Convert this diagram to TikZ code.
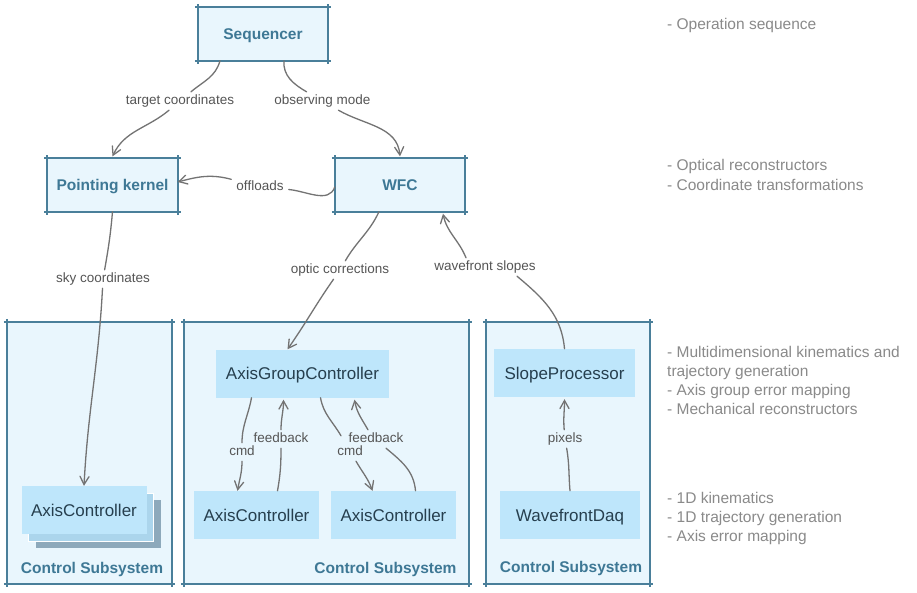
\documentclass[tikz,border=0pt]{standalone}
\usepackage{fontspec}
\setmainfont{Liberation Sans}
\usetikzlibrary{arrows.meta}

\definecolor{framecol}{HTML}{4A7F9A}
\definecolor{headfill}{HTML}{E9F6FD}
\definecolor{headtext}{HTML}{3E7895}
\definecolor{boxfill}{HTML}{BEE6FB}
\definecolor{boxtext}{HTML}{263F4E}
\definecolor{layermid}{HTML}{ABD5EC}
\definecolor{layerdark}{HTML}{8DA9BB}
\definecolor{wirecol}{HTML}{737373}
\definecolor{lbltext}{HTML}{555555}
\definecolor{notetext}{HTML}{8A8A8A}

\tikzset{
  headbox/.style={fill=headfill, text=headtext, font=\fontsize{15.5}{18}\selectfont\bfseries,
    minimum width=130pt, minimum height=53pt, inner sep=0pt, text height=11pt, text depth=0pt},
  subsys/.style={fill=headfill, minimum height=262pt, inner sep=0pt},
  subtitle/.style={text=headtext, font=\fontsize{15.5}{18}\selectfont\bfseries},
  unitbox/.style={fill=boxfill, text=boxtext, font=\fontsize{17}{20}\selectfont,
    minimum height=48pt, inner sep=0pt, text height=12pt, text depth=0pt},
  lbl/.style={text=lbltext, font=\fontsize{13.5}{16}\selectfont, text height=9.5pt,
    text depth=2.5pt, inner xsep=5pt, inner ysep=3pt},
  note/.style={text=notetext, font=\fontsize{15.5}{18}\selectfont, anchor=base west, inner sep=0pt},
  conn/.style={draw=wirecol, line width=1.3pt, line cap=round,
    -{Straight Barb[length=8pt,width=9pt,line cap=round]}},
  frame/.style={draw=framecol, line width=1.8pt},
}

\begin{document}
\begin{tikzpicture}[x=1pt,y=1pt]
  \fill[white] (0,0) rectangle (917,-592);   % page

  % subsystems
  \node[subsys, minimum width=165pt] (ctlA) at (89.5,-453) {};
  \node[subsys, minimum width=285pt] (ctlB) at (326.5,-453) {};
  \node[subsys, minimum width=164pt] (ctlC) at (568,-453) {};
  \node[subtitle] (tA) at (92,-569) {Control Subsystem};
  \node[subtitle, anchor=east] (tB) at (460,-569) {Control Subsystem};
  \node[subtitle] (tC) at (571,-568) {Control Subsystem};

  % top level
  \node[headbox] (seq) at (263,-34) {Sequencer};
  \node[headbox] (pk) at (112.5,-185) {Pointing kernel};
  \node[headbox] (wfc) at (400,-185) {WFC};

  % hand drawn frames, edges run past the corners
  \foreach \bx in {seq,pk,wfc,ctlA,ctlB,ctlC}{
    \draw[frame] ([xshift=-3pt]\bx.north west) -- ([xshift=3pt]\bx.north east);
    \draw[frame] ([xshift=-3pt]\bx.south west) -- ([xshift=3pt]\bx.south east);
    \draw[frame] ([yshift=3pt]\bx.north west) -- ([yshift=-3pt]\bx.south west);
    \draw[frame] ([yshift=3pt]\bx.north east) -- ([yshift=-3pt]\bx.south east);
  }

  % units
  \node[unitbox, fill=layerdark, minimum width=125pt] (axAc) at (98,-523.5) {};
  \node[unitbox, fill=layermid, draw=white, line width=0.6pt, minimum width=125pt] (axAb) at (91,-517) {};
  \node[unitbox, minimum width=125pt] (axA) at (84,-510) {AxisController};
  \node[unitbox, minimum width=173pt] (agc) at (302.5,-373.5) {AxisGroupController};
  \node[unitbox, minimum width=125pt] (ac1) at (256.5,-515) {AxisController};
  \node[unitbox, minimum width=125pt] (ac2) at (393.5,-515) {AxisController};
  \node[unitbox, minimum width=141pt] (slp) at (564.5,-373) {SlopeProcessor};
  \node[unitbox, minimum width=140pt] (wfd) at (570,-515) {WavefrontDaq};

  % connector labels
  \node[lbl] (tc) at (180,-101) {target coordinates};
  \node[lbl] (om) at (322.5,-101) {observing mode};
  \node[lbl] (off) at (260,-187) {offloads};
  \node[lbl] (sky) at (103,-279) {sky coordinates};
  \node[lbl] (oc) at (340,-270) {optic corrections};
  \node[lbl] (ws) at (485,-267) {wavefront slopes};
  \node[lbl] (cmdA) at (242,-452) {cmd};
  \node[lbl] (fbA) at (281,-439) {feedback};
  \node[lbl] (cmdB) at (350,-452) {cmd};
  \node[lbl] (fbB) at (376,-439) {feedback};
  \node[lbl] (pix) at (565,-439) {pixels};

  % connectors
  \draw[conn] ([xshift=-43pt]seq.south) to[out=-105,in=40] (tc) to[out=-140,in=65] ([yshift=2pt]pk.north);
  \draw[conn] ([xshift=21pt]seq.south) to[out=-95,in=150] (om) to[out=-30,in=95] ([yshift=2pt]wfc.north);
  \draw[conn] ([yshift=-2pt]wfc.west) to[out=-110,in=-5] (off) to[out=165,in=15] ([yshift=3pt]pk.east);
  \draw[conn] (pk.south) to[out=-95,in=80] (sky) to[out=-93,in=87] (axA.north);
  \draw[conn] ([xshift=-21pt]wfc.south) to[out=-115,in=60] (oc) to[out=-125,in=55] ([xshift=-15pt]agc.north);
  \draw[conn] (slp.north) to[out=95,in=-40] ([xshift=32pt]ws.south)
    ([xshift=-19pt]ws.north) to[out=112,in=-78] ([xshift=43pt,yshift=-2pt]wfc.south);
  \draw[conn] ([xshift=-51pt]agc.south) to[out=-100,in=90] (cmdA) to[out=-90,in=80] ([xshift=-19pt]ac1.north);
  \draw[conn] ([xshift=21pt]ac1.north) to[out=80,in=-90] (fbA) to[out=90,in=-90] ([xshift=-19pt,yshift=-2pt]agc.south);
  \draw[conn] ([xshift=18pt]agc.south) to[out=-80,in=120] ([xshift=-9pt,yshift=7pt]cmdB.north)
    ([xshift=6pt]cmdB.south) to[out=-60,in=110] ([xshift=-21pt]ac2.north);
  \draw[conn] ([xshift=22pt]ac2.north) to[out=95,in=-40] ([xshift=10pt]fbB.south)
    ([xshift=-8pt]fbB.north) to[out=120,in=-80] ([xshift=52pt,yshift=-2pt]agc.south);
  \draw[conn] (wfd.north) to[out=95,in=-80] (pix) to[out=95,in=-90] ([yshift=-2pt]slp.south);

  % notes on the right
  \foreach \y/\txt in {29/- Operation sequence, 170/- Optical reconstructors,
      190/- Coordinate transformations, 357/- Multidimensional kinematics and,
      376/trajectory generation, 395/- Axis group error mapping,
      414/- Mechanical reconstructors, 503/- 1D kinematics,
      522/- 1D trajectory generation, 541/- Axis error mapping}
    \node[note] (note\y) at (667,-\y) {\txt};
\end{tikzpicture}
\end{document}
